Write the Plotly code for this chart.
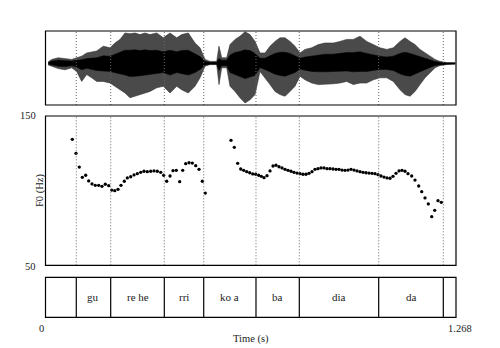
import plotly.graph_objects as go

# ---------------- data ----------------
T_MAX = 1.268

# waveform envelope: time (s), outer top/bottom, inner core top/bottom
wave_t = [0.0086, 0.0192, 0.0395, 0.0602, 0.0809, 0.0964, 0.1118, 0.1273, 0.1427, 0.1582,
          0.1785, 0.1992, 0.2147, 0.2301, 0.2456, 0.2610, 0.2765, 0.2919, 0.3074, 0.3228,
          0.3435, 0.3639, 0.3846, 0.4053, 0.4207, 0.4411, 0.4618, 0.4773, 0.4927, 0.5082,
          0.5288, 0.5359, 0.5443, 0.5597, 0.5699, 0.5854, 0.6008, 0.6163, 0.6317, 0.6472,
          0.6626, 0.6780, 0.6935, 0.7089, 0.7244, 0.7398, 0.7553, 0.7707, 0.7862, 0.8016,
          0.8223, 0.8427, 0.8634, 0.8890, 0.9097, 0.9304, 0.9508, 0.9715, 0.9922, 1.0126,
          1.0333, 1.0540, 1.0744, 1.0951, 1.1105, 1.1260, 1.1414, 1.1568, 1.1723, 1.1877,
          1.2032, 1.2186, 1.2402, 1.2649]
wave_top = [0.04, 0.10, 0.14, 0.12, 0.10, 0.14, 0.18, 0.26, 0.29, 0.31,
            0.43, 0.39, 0.51, 0.60, 0.76, 0.74, 0.76, 0.72, 0.76, 0.72,
            0.76, 0.64, 0.76, 0.64, 0.72, 0.76, 0.51, 0.39, 0.10, 0.05,
            0.05, 0.43, 0.14, 0.14, 0.47, 0.60, 0.68, 0.79, 0.72, 0.55,
            0.26, 0.26, 0.43, 0.55, 0.64, 0.64, 0.55, 0.43, 0.26, 0.35,
            0.39, 0.47, 0.51, 0.51, 0.55, 0.60, 0.60, 0.68, 0.55, 0.47,
            0.39, 0.35, 0.39, 0.55, 0.64, 0.55, 0.47, 0.35, 0.26, 0.18,
            0.10, 0.05, 0.02, 0.02]
wave_bot = [-0.04, -0.07, -0.13, -0.16, -0.11, -0.20, -0.45, -0.28, -0.36, -0.45,
            -0.45, -0.49, -0.57, -0.66, -0.74, -0.86, -0.82, -0.78, -0.74, -0.70,
            -0.61, -0.57, -0.74, -0.57, -0.66, -0.74, -0.57, -0.36, -0.07, -0.03,
            -0.03, -0.53, -0.11, -0.11, -0.57, -0.70, -0.86, -0.99, -0.91, -0.78,
            -0.20, -0.36, -0.53, -0.70, -0.78, -0.82, -0.70, -0.57, -0.32, -0.41,
            -0.49, -0.53, -0.53, -0.51, -0.49, -0.45, -0.53, -0.49, -0.49, -0.41,
            -0.36, -0.36, -0.45, -0.66, -0.78, -0.82, -0.70, -0.53, -0.36, -0.24,
            -0.11, -0.05, -0.03, -0.02]
core_top = [0.02, 0.06, 0.08, 0.07, 0.06, 0.08, 0.09, 0.12, 0.13, 0.14,
            0.19, 0.18, 0.23, 0.27, 0.33, 0.33, 0.34, 0.32, 0.34, 0.32,
            0.33, 0.29, 0.33, 0.29, 0.32, 0.33, 0.23, 0.17, 0.05, 0.03,
            0.03, 0.12, 0.08, 0.08, 0.21, 0.27, 0.30, 0.34, 0.32, 0.25,
            0.13, 0.13, 0.19, 0.25, 0.28, 0.28, 0.25, 0.19, 0.13, 0.16,
            0.18, 0.21, 0.23, 0.23, 0.25, 0.27, 0.27, 0.29, 0.25, 0.21,
            0.18, 0.16, 0.18, 0.25, 0.28, 0.25, 0.21, 0.16, 0.12, 0.09,
            0.05, 0.03, 0.01, 0.01]
core_bot = [-0.02, -0.04, -0.07, -0.08, -0.06, -0.09, -0.16, -0.12, -0.15, -0.18,
            -0.19, -0.20, -0.23, -0.26, -0.29, -0.33, -0.32, -0.31, -0.29, -0.28,
            -0.25, -0.23, -0.29, -0.23, -0.26, -0.29, -0.23, -0.15, -0.04, -0.02,
            -0.02, -0.18, -0.06, -0.06, -0.23, -0.28, -0.33, -0.38, -0.35, -0.30,
            -0.10, -0.15, -0.21, -0.27, -0.30, -0.32, -0.27, -0.23, -0.14, -0.17,
            -0.20, -0.21, -0.21, -0.21, -0.20, -0.19, -0.21, -0.20, -0.20, -0.17,
            -0.15, -0.15, -0.18, -0.26, -0.30, -0.32, -0.27, -0.21, -0.15, -0.10,
            -0.05, -0.03, -0.02, -0.01]

# F0 pitch points
f0_t = [0.0828, 0.0942, 0.1044, 0.1137, 0.1242, 0.1334, 0.1436, 0.1538, 0.1643, 0.1745,
        0.1847, 0.1952, 0.2045, 0.2138, 0.2240, 0.2332, 0.2434, 0.2527, 0.2632, 0.2734,
        0.2836, 0.2941, 0.3043, 0.3145, 0.3250, 0.3352, 0.3454, 0.3559, 0.3651, 0.3744,
        0.3846, 0.3939, 0.4040, 0.4145, 0.4238, 0.4331, 0.4433, 0.4535, 0.4640, 0.4742,
        0.4844, 0.4936,
        0.5730, 0.5832, 0.5937, 0.6030, 0.6122, 0.6215, 0.6308, 0.6400, 0.6493, 0.6586,
        0.6666, 0.6750, 0.6842, 0.6935, 0.7028, 0.7120, 0.7213, 0.7306, 0.7398, 0.7491,
        0.7584, 0.7676, 0.7769, 0.7862, 0.7954, 0.8047, 0.8140, 0.8232, 0.8325, 0.8418,
        0.8510, 0.8603, 0.8696, 0.8788, 0.8881, 0.8974, 0.9066, 0.9159, 0.9252, 0.9344,
        0.9437, 0.9530, 0.9622, 0.9715, 0.9808, 0.9900, 0.9993, 1.0086, 1.0178, 1.0271,
        1.0364, 1.0456, 1.0549, 1.0642, 1.0734, 1.0827, 1.0920, 1.1012, 1.1105, 1.1198,
        1.1312, 1.1414, 1.1528, 1.1621, 1.1723, 1.1825, 1.1930, 1.2023, 1.2124, 1.2226]
f0_hz = [134.4, 125.0, 115.8, 108.9, 110.3, 106.5, 104.5, 103.6, 103.6, 102.9,
         104.3, 103.3, 100.4, 100.0, 100.9, 103.6, 106.3, 108.5, 109.3, 110.5,
         111.4, 112.3, 113.0, 112.7, 113.0, 113.2, 113.0, 112.3, 110.3, 106.3,
         109.8, 113.4, 113.6, 106.0, 113.6, 118.1, 118.7, 118.5, 116.7, 114.3,
         106.3, 98.4,
         133.7, 129.0, 118.3, 114.5, 113.6, 112.7, 112.0, 111.2, 111.0, 110.3,
         109.6, 108.7, 110.0, 113.2, 116.5, 117.0, 116.0, 115.2, 114.3, 113.6,
         113.0, 112.3, 111.8, 111.4, 111.0, 111.0, 111.6, 112.7, 114.3, 114.7,
         115.2, 115.2, 114.7, 114.7, 114.5, 114.3, 114.3, 113.8, 113.6, 113.8,
         114.3, 113.8, 113.2, 112.7, 112.3, 112.0, 111.8, 111.6, 111.4, 110.7,
         109.8, 109.1, 108.5, 108.3, 109.6, 111.6, 113.2, 113.6, 113.0, 111.4,
         109.8, 107.1, 103.1, 99.3, 95.1, 91.1, 82.6, 86.8, 93.3, 92.2]
F0_MIN, F0_MAX = 50, 150

# TextGrid tier
bounds = [0.0951, 0.2014, 0.3670, 0.4887, 0.6502, 0.7840, 1.0292, 1.2288]
labels = ["", "gu", "re he", "rri", "ko a", "ba", "dia", "da", ""]

# ---------------- layout helpers ----------------
W, H = 500, 348
def px(x): return x / W
def py(y): return 1 - y / H

X_DOM = [px(45.5), px(456)]
WAVE_DOM = [py(105), py(31)]
F0_DOM = [py(265.3), py(116)]
TIER_DOM = [py(317.3), py(277.3)]

FONT = "Liberation Serif"

fig = go.Figure()

# waveform outer envelope
fig.add_trace(go.Scatter(
    x=wave_t + wave_t[::-1], y=wave_top + wave_bot[::-1],
    fill="toself", fillcolor="#4a4a4a", line=dict(width=0.6, color="#333"),
    mode="lines", hoverinfo="skip", xaxis="x", yaxis="y"))
# waveform core
fig.add_trace(go.Scatter(
    x=wave_t + wave_t[::-1], y=core_top + core_bot[::-1],
    fill="toself", fillcolor="#000", line=dict(width=0.5, color="#000"),
    mode="lines", hoverinfo="skip", xaxis="x", yaxis="y"))

# F0 points
fig.add_trace(go.Scatter(x=f0_t, y=f0_hz, mode="markers",
                         marker=dict(color="black", size=3.3, line=dict(width=0)),
                         xaxis="x2", yaxis="y2"))

hidden = dict(visible=False, showgrid=False, zeroline=False, fixedrange=True)
fig.update_layout(
    width=W, height=H, margin=dict(l=0, r=0, t=0, b=0),
    paper_bgcolor="white", plot_bgcolor="white", showlegend=False,
    xaxis=dict(domain=X_DOM, range=[0, T_MAX], anchor="y", **hidden),
    yaxis=dict(domain=WAVE_DOM, range=[-1.04, 0.81], anchor="x", **hidden),
    xaxis2=dict(domain=X_DOM, range=[0, T_MAX], anchor="y2", **hidden),
    yaxis2=dict(domain=F0_DOM, range=[F0_MIN, F0_MAX], anchor="x2", **hidden),
    xaxis3=dict(domain=X_DOM, range=[0, T_MAX], anchor="y3", **hidden),
    yaxis3=dict(domain=TIER_DOM, range=[0, 1], anchor="x3", **hidden),
)

shapes = []
# dotted boundary lines in waveform and pitch panels
for b in bounds:
    for dom in (WAVE_DOM, F0_DOM):
        shapes.append(dict(type="line", xref="x", yref="paper", x0=b, x1=b,
                           y0=dom[0], y1=dom[1],
                           line=dict(color="#666", width=1, dash="1px,2px")))
    shapes.append(dict(type="line", xref="x3", yref="paper", x0=b, x1=b,
                       y0=TIER_DOM[0], y1=TIER_DOM[1],
                       line=dict(color="black", width=1.2)))
# panel boxes
for dom in (WAVE_DOM, F0_DOM, TIER_DOM):
    shapes.append(dict(type="rect", xref="paper", yref="paper",
                       x0=X_DOM[0], x1=X_DOM[1], y0=dom[0], y1=dom[1],
                       line=dict(color="black", width=1.2), fillcolor="rgba(0,0,0,0)"))
fig.update_layout(shapes=shapes)

ann = []
edges = [0] + bounds + [T_MAX]
for i, lab in enumerate(labels):
    if lab:
        ann.append(dict(x=(edges[i] + edges[i + 1]) / 2, y=0.5, xref="x3", yref="y3",
                        text=lab, showarrow=False,
                        font=dict(family=FONT, size=11, color="#222")))

def txt(x, y, s, xanchor="center", angle=0, size=10.5):
    ann.append(dict(x=px(x), y=py(y), xref="paper", yref="paper", text=s,
                    showarrow=False, xanchor=xanchor, yanchor="middle",
                    textangle=angle, font=dict(family=FONT, size=size, color="#222")))

txt(38, 115, str(F0_MAX), xanchor="right")
txt(38, 266, str(F0_MIN), xanchor="right")
txt(39.5, 190.5, "F0 (Hz)", angle=-90)
txt(41, 328, "0")
txt(460, 328, f"{T_MAX:.3f}")
txt(250.7, 339, "Time (s)")
fig.update_layout(annotations=ann)

fig.write_html("out.html")
